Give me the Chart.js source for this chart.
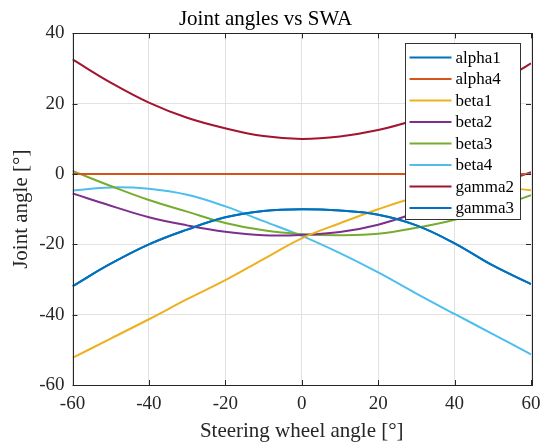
<!DOCTYPE html>
<html>
<head>
<meta charset="utf-8">
<script src="https://cdn.jsdelivr.net/npm/chart.js@4"></script>
<style>
  html, body { margin: 0; padding: 0; background: #fff; }
  #wrap { width: 553px; height: 448px; }
</style>
</head>
<body>
<div id="wrap"><canvas id="myChart" width="553" height="448"></canvas></div>
<script>
// steering wheel angle samples [deg]
const swa = [-60, -50, -40, -30, -20, -10, 0, 10, 20, 30, 40, 50, 60];

// joint angles [deg]
const alpha1 = [-31.9, -25.5, -20.0, -15.8, -12.3, -10.5, -10.0, -10.4, -11.6, -14.6, -19.7, -26.0, -31.3];
const alpha4 = [0, 0, 0, 0, 0, 0, 0, 0, 0, 0, 0, 0, 0];
const beta1  = [-52.3, -46.8, -41.3, -35.6, -30.2, -24.2, -18.3, -14.0, -10.0, -6.6, -4.3, -3.6, -4.6];
const beta2  = [-5.5, -9.0, -12.3, -14.6, -16.4, -17.4, -17.3, -16.5, -14.4, -11.0, -7.0, -3.3, 0.5];
const beta3  = [0.9, -3.4, -7.4, -10.7, -13.9, -16.0, -17.1, -17.4, -17.0, -15.3, -13.0, -9.8, -6.0];
const beta4  = [-4.7, -3.8, -4.2, -5.9, -9.2, -13.4, -17.6, -22.5, -28.0, -34.0, -39.8, -45.5, -51.3];
const gamma2 = [32.6, 26.0, 20.3, 16.0, 13.0, 10.8, 10.0, 10.7, 12.5, 15.5, 19.5, 25.0, 31.5];
const gamma3 = [-31.9, -25.5, -20.0, -15.8, -12.3, -10.5, -10.0, -10.4, -11.6, -14.6, -19.7, -26.0, -31.3];

const seriesNames = ['alpha1', 'alpha4', 'beta1', 'beta2', 'beta3', 'beta4', 'gamma2', 'gamma3'];
const seriesData = [alpha1, alpha4, beta1, beta2, beta3, beta4, gamma2, gamma3];
const seriesColors = ['#0072BD', '#D95319', '#EDB120', '#7E2F8E', '#77AC30', '#4DBEEE', '#A2142F', '#0072BD'];

const xTicks = [-60, -40, -20, 0, 20, 40, 60];
const yTicks = [-60, -40, -20, 0, 20, 40];

const FONT = '"Liberation Serif", "DejaVu Serif", serif';
const AXIS_COLOR = '#262626';

// box + inward ticks, matlab style
const boxPlugin = {
    id: 'box',
    afterDatasetsDraw(chart) {
        const ctx = chart.ctx;
        const a = chart.chartArea;
        const xs = chart.scales.x;
        const ys = chart.scales.y;
        const len = 5;
        ctx.save();
        ctx.strokeStyle = AXIS_COLOR;
        ctx.lineWidth = 1;
        ctx.beginPath();
        xTicks.forEach(t => {
            const px = Math.round(xs.getPixelForValue(t)) + 0.5;
            ctx.moveTo(px, a.bottom); ctx.lineTo(px, a.bottom - len);
            ctx.moveTo(px, a.top); ctx.lineTo(px, a.top + len);
        });
        yTicks.forEach(t => {
            const py = Math.round(ys.getPixelForValue(t)) + 0.5;
            ctx.moveTo(a.left, py); ctx.lineTo(a.left + len, py);
            ctx.moveTo(a.right, py); ctx.lineTo(a.right - len, py);
        });
        ctx.stroke();
        ctx.strokeRect(Math.round(a.left) + 0.5, Math.round(a.top) + 0.5,
            Math.round(a.right - a.left), Math.round(a.bottom - a.top));
        ctx.restore();
    }
};

// legend drawn inside the axes, top right
const insideLegend = {
    id: 'insideLegend',
    afterDraw(chart) {
        const ctx = chart.ctx;
        const a = chart.chartArea;
        const w = 115, h = 176;
        const left = Math.round(a.right - 11 - w) + 0.5;
        const top = Math.round(a.top + 10) + 0.5;
        ctx.save();
        ctx.fillStyle = '#fff';
        ctx.fillRect(left, top, w, h);
        ctx.strokeStyle = '#333';
        ctx.lineWidth = 1;
        ctx.strokeRect(left, top, w, h);
        ctx.font = '17px ' + FONT;
        ctx.textBaseline = 'middle';
        ctx.textAlign = 'left';
        chart.data.datasets.forEach((ds, i) => {
            const y = top + 14 + i * 21.5;
            ctx.strokeStyle = ds.borderColor;
            ctx.lineWidth = 2;
            ctx.beginPath();
            ctx.moveTo(left + 4, y);
            ctx.lineTo(left + 46, y);
            ctx.stroke();
            ctx.fillStyle = '#000';
            ctx.fillText(ds.label, left + 50, y + 1);
        });
        ctx.restore();
    }
};

const datasets = seriesNames.map((name, i) => ({
    label: name,
    data: swa.map((x, j) => ({ x: x, y: seriesData[i][j] })),
    borderColor: seriesColors[i],
    backgroundColor: seriesColors[i],
    borderWidth: 2,
    pointRadius: 0,
    tension: 0.4,
    fill: false
}));

const ctx = document.getElementById('myChart').getContext('2d');
new Chart(ctx, {
    type: 'line',
    data: { datasets: datasets },
    options: {
        responsive: false,
        animation: false,
        layout: { padding: { left: 0, right: 22, top: 0, bottom: 0 } },
        plugins: {
            legend: { display: false },
            tooltip: { enabled: false },
            title: {
                display: true,
                text: 'Joint angles vs SWA',
                color: '#000',
                font: { family: FONT, size: 21, weight: 'normal' },
                padding: { top: 7, bottom: 1.2 }
            }
        },
        scales: {
            x: {
                type: 'linear',
                min: -60,
                max: 60,
                afterBuildTicks: s => { s.ticks = xTicks.map(v => ({ value: v })); },
                afterFit: s => { s.height = 63; },
                grid: { color: '#e2e2e2', drawTicks: false },
                border: { display: false },
                ticks: {
                    color: '#262626',
                    font: { family: FONT, size: 19 },
                    padding: 8,
                    maxRotation: 0
                },
                title: {
                    display: true,
                    text: 'Steering wheel angle [°]',
                    color: '#262626',
                    font: { family: FONT, size: 21 },
                    padding: { top: 0, bottom: 4 }
                }
            },
            y: {
                type: 'linear',
                min: -60,
                max: 40,
                afterBuildTicks: s => { s.ticks = yTicks.map(v => ({ value: v })); },
                afterFit: s => { s.width = 72.5; },
                grid: { color: '#e2e2e2', drawTicks: false },
                border: { display: false },
                ticks: {
                    color: '#262626',
                    font: { family: FONT, size: 19 },
                    padding: 8
                },
                title: {
                    display: true,
                    text: 'Joint angle [°]',
                    color: '#262626',
                    font: { family: FONT, size: 21 },
                    padding: { top: 9, bottom: 0 }
                }
            }
        }
    },
    plugins: [boxPlugin, insideLegend]
});
</script>
</body>
</html>
